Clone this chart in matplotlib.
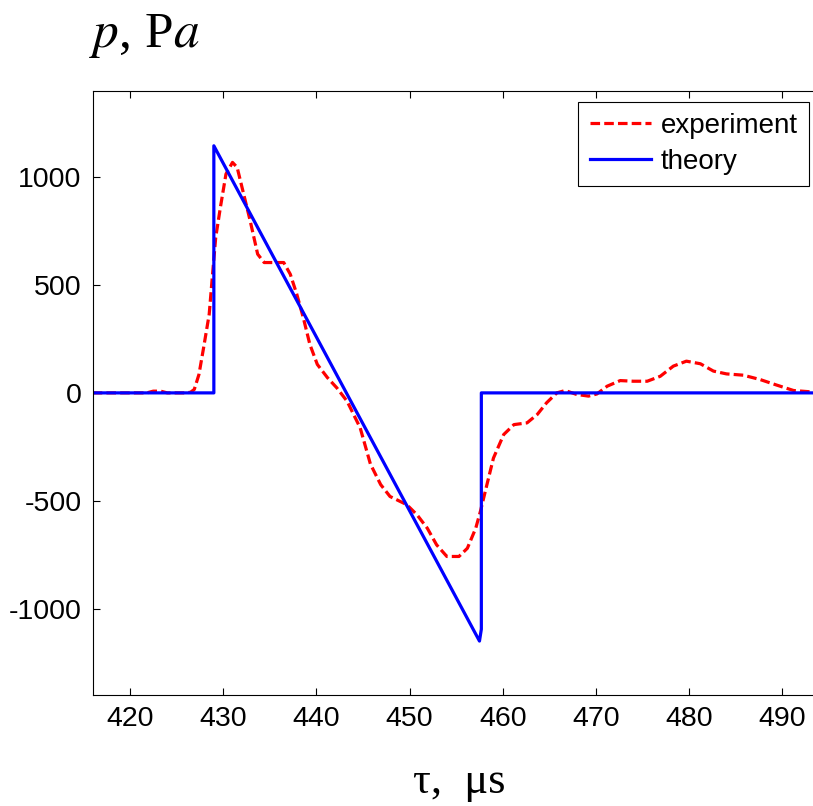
import matplotlib
matplotlib.use("Agg")
import matplotlib.pyplot as plt

plt.rcParams['font.family'] = ['Liberation Sans', 'DejaVu Sans']
plt.rcParams['mathtext.fontset'] = 'stix'
plt.rcParams['axes.unicode_minus'] = False

# experiment (red dashed)
exp_t = [416, 420, 421.8, 422.5, 423.3, 424, 426, 426.5,
         426.9, 427.4, 427.9, 428.5, 428.8, 429.2, 429.7, 430.3, 431.0, 431.5,
         432.2, 432.9, 433.7, 434.4, 435.4, 436.5, 437.2, 437.9, 438.6, 439.3,
         440.1, 441.2, 442.2, 443.3, 444.7, 445.8, 446.9, 447.9, 449.7, 450.8,
         451.9, 452.9, 454.0, 455.3, 456.2, 457.1, 457.6, 458.3, 459.0, 460.1,
         461.2, 462.6, 463.7, 464.7, 465.8, 466.7, 467.9, 469.2, 470.1, 471.2,
         472.6, 474.0, 475.5, 476.9, 478.3, 479.7, 481.2, 482.6, 484.0, 485.8,
         487.6, 489.4, 491.2, 493.0, 494]
exp_p = [0, 0, 0, 8, 8, 0, 0, 3,
         16, 85, 209, 364, 519, 720, 859, 1014, 1068, 1045,
         921, 797, 643, 604, 604, 604, 550, 457, 348, 225,
         132, 70, 23, -39, -162, -330, -425, -480, -518, -565,
         -627, -704, -758, -758, -720, -627, -549, -425, -302, -193,
         -147, -139, -100, -46, 0, 11, -7, -15, -5, 31,
         57, 54, 54, 77, 124, 147, 135, 101, 88, 82,
         62, 36, 11, 5, 3]

# theory (blue solid)
th_t = [416, 429.0, 429.0, 457.5, 457.7, 457.7, 494]
th_p = [0, 0, 1145, -1150, -1095, 0, 0]

xticks = [420, 430, 440, 450, 460, 470, 480, 490]
yticks = [-1000, -500, 0, 500, 1000]

fig = plt.figure(figsize=(8.13, 8.06), dpi=100)
ax = fig.add_axes([0.114, 0.1377, 0.8942, 0.7497])

ax.plot(exp_t, exp_p, color=(1, 0, 0), lw=2.3, linestyle=(0, (3, 1.3)),
        label="experiment")
ax.plot(th_t, th_p, color=(0, 0, 1), lw=2.3, label="theory")

ax.set_xlim(416, 494)
ax.set_ylim(-1400, 1400)
ax.set_xticks(xticks)
ax.set_yticks(yticks)
ax.tick_params(direction='in', length=4.8, width=0.8, top=True, right=True,
               labelsize=20.5, pad=8)
for s in ax.spines.values():
    s.set_linewidth(0.8)

leg = ax.legend(loc='upper right', fontsize=20, handlelength=2.2,
                handletextpad=0.35, borderpad=0.4, labelspacing=0.36,
                borderaxespad=0.4, fancybox=False, framealpha=1)
leg.get_frame().set_edgecolor('black')
leg.get_frame().set_linewidth(0.8)

fig.text(89 / 813, (806 - 47) / 806, r"$p$, P$a$", fontsize=37,
         family='Liberation Serif', ha='left', va='baseline')
fig.text(459 / 813, (806 - 793) / 806, "τ,  μs", fontsize=32,
         family='Liberation Serif', ha='center', va='baseline')

fig.savefig("out.png", dpi=100)
